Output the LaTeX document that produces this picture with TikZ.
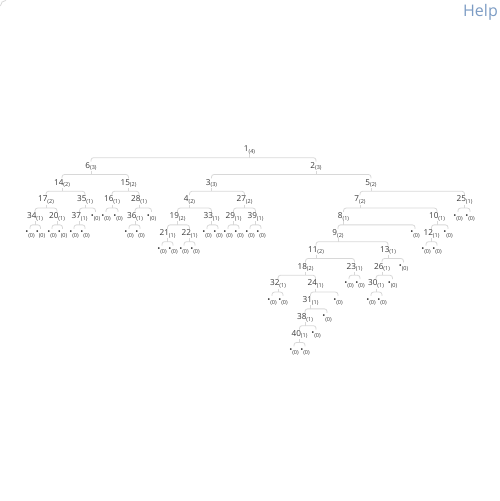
\documentclass[tikz,border=0pt]{standalone}
\usepackage{fontspec}
\setmainfont{Open Sans}
\definecolor{txt}{HTML}{3A3A3A}
\definecolor{lineg}{HTML}{D8D8D8}
\definecolor{helpc}{HTML}{7C9CC4}
\newcommand{\lb}[2]{#1\raisebox{-1.6pt}{\fontsize{5.5}{6}\selectfont(#2)}}
\newcommand{\lf}{\raisebox{0.6pt}{\fontsize{8}{8}\selectfont\textbullet}\raisebox{-1.6pt}{\fontsize{5.5}{6}\selectfont(0)}}
\newcommand{\kids}[3]{\draw[edge] (#2.north) |- ([yshift=-3.5pt]#1.south) -| (#3.north); \draw[edge] (#1.south) -- ([yshift=-3.5pt]#1.south);}
\tikzset{
  tn/.style={inner sep=0.5pt, text height=6pt, text depth=2pt, font=\fontsize{8.2}{9}\selectfont, text=txt},
  edge/.style={draw=lineg, line width=0.8pt, rounded corners=2.5pt}
}
\begin{document}
\begin{tikzpicture}[x=1pt,y=1pt]
\useasboundingbox (0,0) rectangle (500,501);
\draw[lineg, line width=0.8pt] (0.4,495) arc (180:90:5.6);
\node[anchor=base east, font=\fontsize{16}{18}\selectfont, text=helpc, inner sep=0] (help) at (498,484.5) {Help};
% level 0
\node[tn] (n1) at (249.5,351.5) {\lb{1}{4}};
% level 1
\node[tn] (n6) at (91,334.7) {\lb{6}{3}};
\node[tn] (n2) at (316,334.7) {\lb{2}{3}};
% level 2
\node[tn] (n14) at (62,317.9) {\lb{14}{2}};
\node[tn] (n15) at (128.5,317.9) {\lb{15}{2}};
\node[tn] (n3) at (211.5,317.9) {\lb{3}{3}};
\node[tn] (n5) at (371,317.9) {\lb{5}{2}};
% level 3
\node[tn] (n17) at (46,301.1) {\lb{17}{2}};
\node[tn] (n35) at (85,301.1) {\lb{35}{1}};
\node[tn] (n16) at (112,301.1) {\lb{16}{1}};
\node[tn] (n28) at (139,301.1) {\lb{28}{1}};
\node[tn] (n4) at (189.5,301.1) {\lb{4}{2}};
\node[tn] (n27) at (244.5,301.1) {\lb{27}{2}};
\node[tn] (n7) at (360,301.1) {\lb{7}{2}};
\node[tn] (n25) at (464.5,301.1) {\lb{25}{1}};
% level 4
\node[tn] (n34) at (35,284.3) {\lb{34}{1}};
\node[tn] (n20) at (57,284.3) {\lb{20}{1}};
\node[tn] (n37) at (79.5,284.3) {\lb{37}{1}};
\node[tn] (a35) at (95.5,284.3) {\lf};
\node[tn] (a16a) at (106,284.3) {\lf};
\node[tn] (a16b) at (118,284.3) {\lf};
\node[tn] (n36) at (135,284.3) {\lb{36}{1}};
\node[tn] (a28) at (151.5,284.3) {\lf};
\node[tn] (n19) at (177.5,284.3) {\lb{19}{2}};
\node[tn] (n33) at (211.5,284.3) {\lb{33}{1}};
\node[tn] (n29) at (233.5,284.3) {\lb{29}{1}};
\node[tn] (n39) at (255.5,284.3) {\lb{39}{1}};
\node[tn] (n8) at (343.5,284.3) {\lb{8}{1}};
\node[tn] (n10) at (437,284.3) {\lb{10}{1}};
\node[tn] (a25a) at (458,284.3) {\lf};
\node[tn] (a25b) at (470,284.3) {\lf};
% level 5
\node[tn] (a34a) at (30,267.5) {\lf};
\node[tn] (a34b) at (40.5,267.5) {\lf};
\node[tn] (a20a) at (52,267.5) {\lf};
\node[tn] (a20b) at (62.5,267.5) {\lf};
\node[tn] (a37a) at (74,267.5) {\lf};
\node[tn] (a37b) at (85,267.5) {\lf};
\node[tn] (a36a) at (129,267.5) {\lf};
\node[tn] (a36b) at (140,267.5) {\lf};
\node[tn] (n21) at (167.5,267.5) {\lb{21}{1}};
\node[tn] (n22) at (189.5,267.5) {\lb{22}{1}};
\node[tn] (a33a) at (207,267.5) {\lf};
\node[tn] (a33b) at (218,267.5) {\lf};
\node[tn] (a29a) at (228,267.5) {\lf};
\node[tn] (a29b) at (239,267.5) {\lf};
\node[tn] (a39a) at (250,267.5) {\lf};
\node[tn] (a39b) at (261,267.5) {\lf};
\node[tn] (n9) at (338,267.5) {\lb{9}{2}};
\node[tn] (a8) at (415,267.5) {\lf};
\node[tn] (n12) at (431.5,267.5) {\lb{12}{1}};
\node[tn] (a10) at (448,267.5) {\lf};
% level 6
\node[tn] (a21a) at (162,250.7) {\lf};
\node[tn] (a21b) at (173,250.7) {\lf};
\node[tn] (a22a) at (184,250.7) {\lf};
\node[tn] (a22b) at (195,250.7) {\lf};
\node[tn] (n11) at (316,250.7) {\lb{11}{2}};
\node[tn] (n13) at (388,250.7) {\lb{13}{1}};
\node[tn] (a12a) at (426,250.7) {\lf};
\node[tn] (a12b) at (437,250.7) {\lf};
% level 7
\node[tn] (n18) at (305.5,233.9) {\lb{18}{2}};
\node[tn] (n23) at (354.5,233.9) {\lb{23}{1}};
\node[tn] (n26) at (382,233.9) {\lb{26}{1}};
\node[tn] (a13) at (403.5,233.9) {\lf};
% level 8
\node[tn] (n32) at (278,217.1) {\lb{32}{1}};
\node[tn] (n24) at (315.5,217.1) {\lb{24}{1}};
\node[tn] (a23a) at (349,217.1) {\lf};
\node[tn] (a23b) at (360,217.1) {\lf};
\node[tn] (n30) at (376,217.1) {\lb{30}{1}};
\node[tn] (a26) at (392.5,217.1) {\lf};
% level 9
\node[tn] (a32a) at (272,200.3) {\lf};
\node[tn] (a32b) at (283,200.3) {\lf};
\node[tn] (n31) at (310.5,200.3) {\lb{31}{1}};
\node[tn] (a24) at (338,200.3) {\lf};
\node[tn] (a30a) at (371,200.3) {\lf};
\node[tn] (a30b) at (382,200.3) {\lf};
% level 10
\node[tn] (n38) at (305,183.5) {\lb{38}{1}};
\node[tn] (a31) at (327,183.5) {\lf};
% level 11
\node[tn] (n40) at (299.5,166.7) {\lb{40}{1}};
\node[tn] (a38) at (316,166.7) {\lf};
% level 12
\node[tn] (a40a) at (294,149.9) {\lf};
\node[tn] (a40b) at (305,149.9) {\lf};
% connectors
\kids{n1}{n6}{n2}
\kids{n6}{n14}{n15}
\kids{n14}{n17}{n35}
\kids{n17}{n34}{n20}
\kids{n34}{a34a}{a34b}
\kids{n20}{a20a}{a20b}
\kids{n35}{n37}{a35}
\kids{n37}{a37a}{a37b}
\kids{n15}{n16}{n28}
\kids{n16}{a16a}{a16b}
\kids{n28}{n36}{a28}
\kids{n36}{a36a}{a36b}
\kids{n2}{n3}{n5}
\kids{n3}{n4}{n27}
\kids{n4}{n19}{n33}
\kids{n19}{n21}{n22}
\kids{n21}{a21a}{a21b}
\kids{n22}{a22a}{a22b}
\kids{n33}{a33a}{a33b}
\kids{n27}{n29}{n39}
\kids{n29}{a29a}{a29b}
\kids{n39}{a39a}{a39b}
\kids{n5}{n7}{n25}
\kids{n7}{n8}{n10}
\kids{n8}{n9}{a8}
\kids{n9}{n11}{n13}
\kids{n11}{n18}{n23}
\kids{n18}{n32}{n24}
\kids{n32}{a32a}{a32b}
\kids{n24}{n31}{a24}
\kids{n31}{n38}{a31}
\kids{n38}{n40}{a38}
\kids{n40}{a40a}{a40b}
\kids{n23}{a23a}{a23b}
\kids{n13}{n26}{a13}
\kids{n26}{n30}{a26}
\kids{n30}{a30a}{a30b}
\kids{n10}{n12}{a10}
\kids{n12}{a12a}{a12b}
\kids{n25}{a25a}{a25b}
\end{tikzpicture}
\end{document}
